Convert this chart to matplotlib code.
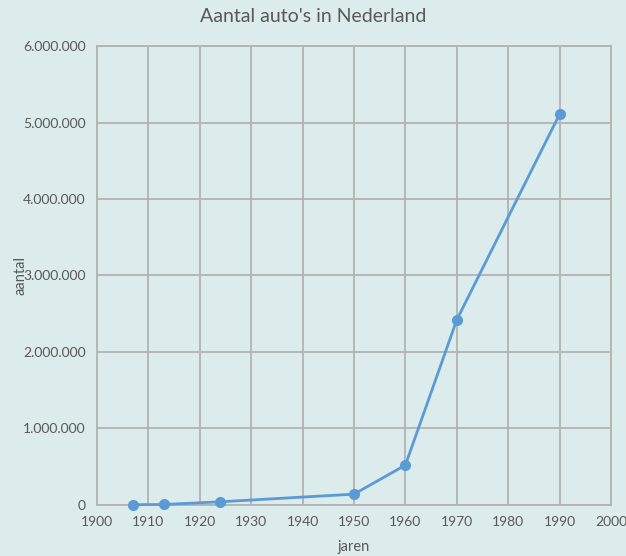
import matplotlib.pyplot as plt
from matplotlib.ticker import FuncFormatter

plt.rcParams['font.family'] = ['Lato', 'DejaVu Sans']

jaren = [1907, 1913, 1924, 1950, 1960, 1970, 1990]
aantal = [2000, 5000, 40000, 140000, 520000, 2420000, 5110000]

bg = '#dcebeb'
txt = '#595959'
grid = '#b3b3b3'

fig = plt.figure(figsize=(6.26, 5.56), dpi=100, facecolor=bg)
ax = fig.add_axes([0.155, 0.092, 0.821, 0.825], facecolor=bg)

ax.plot(jaren, aantal, color='#5b9bd5', lw=2, marker='o', ms=7, zorder=3, clip_on=False)

ax.set_xlim(1900, 2000)
ax.set_ylim(0, 6000000)
ax.set_xticks(range(1900, 2001, 10))
ax.set_yticks(range(0, 6000001, 1000000))
ax.yaxis.set_major_formatter(FuncFormatter(lambda v, p: '{:,.0f}'.format(v).replace(',', '.')))

ax.grid(True, color=grid, lw=1.3)
for s in ax.spines.values():
    s.set_color(grid)
    s.set_linewidth(1.3)
ax.tick_params(length=0, colors=txt, labelsize=10, pad=8)

# title centred on the whole figure, like Excel does
fig.text(0.5, 0.97, "Aantal auto's in Nederland", color=txt, fontsize=14,
         ha='center', va='center')
ax.set_xlabel('jaren', color=txt, fontsize=10.5, labelpad=9)
ax.set_ylabel('aantal', color=txt, fontsize=10.5)
ax.yaxis.set_label_coords(-0.135, 0.5)

fig.savefig('out.png', dpi=100, facecolor=bg)
